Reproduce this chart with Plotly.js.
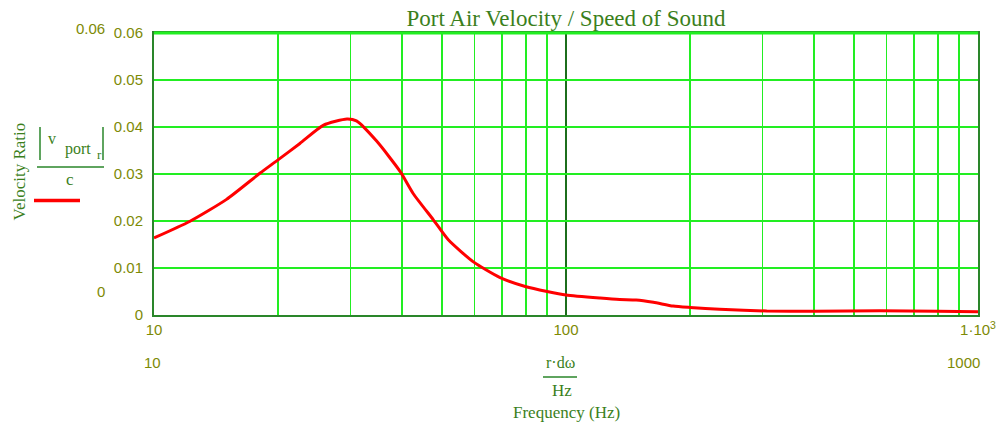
<!DOCTYPE html>
<html>
<head>
<meta charset="utf-8">
<script src="https://cdn.plot.ly/plotly-3.0.1.min.js"></script>
<style>html,body{margin:0;padding:0;background:#fff;}#chart{width:997px;height:423px;}</style>
</head>
<body>
<div id="chart"></div>
<script>
// ---- data ----
var frequencyHz = [10, 12.2, 15, 18.1, 20, 22.6, 25.8, 29.4, 31, 34.7, 39.6, 42.6, 47.6, 51.8, 59.6, 69, 80, 90, 100, 121, 135, 148, 163, 182, 200, 236, 307, 400, 578, 800, 1000];
var velocityRatio = [0.0164, 0.0199, 0.0246, 0.0302, 0.0330, 0.0365, 0.0404, 0.0417, 0.0413, 0.0370, 0.0305, 0.0258, 0.0203, 0.0160, 0.0113, 0.0080, 0.0060, 0.0050, 0.00426, 0.0036, 0.0033, 0.0032, 0.0027, 0.0019, 0.0016, 0.0012, 0.00085, 0.0008, 0.0009, 0.0008, 0.0007];
var xMajorTicks = [10, 100, 1000];
var xMajorTickText = ["10", "100", "1\u00b710<sup>3</sup>"];
var xMinorTicks = [20, 30, 40, 50, 60, 70, 80, 90, 200, 300, 400, 500, 600, 700, 800, 900];
var yTicks = [0, 0.01, 0.02, 0.03, 0.04, 0.05, 0.06];
var yTickText = ["0", "0.01", "0.02", "0.03", "0.04", "0.05", "0.06"];

// ---- layout helpers (pixel -> paper) ----
var L = 154, R = 978, T = 33, B = 315;
function px(x) { return (x - L) / (R - L); }
function py(y) { return (B - y) / (B - T); }

var textGreen = "#3b7f1c";
var tickOlive = "#7d8a05";
var serif = "Liberation Serif, Times New Roman, serif";
var sans = "Liberation Sans, Arial, sans-serif";

function ann(text, x, y, size, font, color, extra) {
  var a = {text: text, x: px(x), y: py(y), xref: "paper", yref: "paper",
    xanchor: "center", yanchor: "middle", showarrow: false,
    font: {family: font, size: size, color: color}};
  if (extra) for (var k in extra) a[k] = extra[k];
  return a;
}
function seg(x0, y0, x1, y1, color, width) {
  return {type: "line", xref: "paper", yref: "paper",
    x0: px(x0), y0: py(y0), x1: px(x1), y1: py(y1),
    line: {color: color, width: width}};
}

var trace = {
  x: frequencyHz, y: velocityRatio, type: "scatter", mode: "lines",
  line: {color: "#ff0000", width: 3, shape: "spline", smoothing: 0.6},
  hoverinfo: "skip", showlegend: false
};

var layout = {
  width: 997, height: 423,
  margin: {l: L, r: 997 - R, t: T, b: 423 - B, pad: 0},
  paper_bgcolor: "#ffffff", plot_bgcolor: "#ffffff",
  title: {text: "Port Air Velocity / Speed of Sound", x: 0.5, xref: "paper",
    y: 1 - 18 / 423, yref: "container", yanchor: "middle",
    font: {family: serif, size: 23, color: textGreen}},
  xaxis: {
    type: "log", range: [1, 3], tickmode: "array",
    tickvals: xMajorTicks, ticktext: xMajorTickText,
    ticks: "", showgrid: true, gridcolor: "#1c6e1c", gridwidth: 1.5,
    minor: {tickmode: "array", tickvals: xMinorTicks, showgrid: true, gridcolor: "#22ee22", gridwidth: 1.5, ticks: ""},
    showline: true, linecolor: "#2a862a", linewidth: 2, mirror: true,
    zeroline: false, tickfont: {family: sans, size: 15, color: tickOlive}
  },
  yaxis: {
    range: [0, 0.06], tickmode: "array", tickvals: yTicks, ticktext: yTickText,
    ticks: "", showgrid: true, gridcolor: "#22ee22", gridwidth: 1.5,
    showline: true, linecolor: "#2a862a", linewidth: 2, mirror: true,
    zeroline: false, ticklabelstandoff: 6,
    tickfont: {family: sans, size: 15, color: tickOlive}
  },
  annotations: [
    ann("Velocity Ratio", 18.5, 172, 17, serif, textGreen, {textangle: -90}),
    ann("v", 52, 138, 16, serif, textGreen),
    ann("port", 78, 149, 16, serif, textGreen),
    ann("r", 99, 154, 13, serif, textGreen),
    ann("c", 70, 180, 17, serif, textGreen),
    ann("0.06", 90, 29, 15, sans, tickOlive),
    ann("0", 101, 291, 15, sans, tickOlive),
    ann("r\u00b7d\u03c9", 560, 362, 16, serif, textGreen),
    ann("Hz", 562, 390, 17, serif, textGreen),
    ann("Frequency (Hz)", 566, 412, 17, serif, textGreen),
    ann("10", 152, 362, 15, sans, tickOlive),
    ann("1000", 963, 362, 15, sans, tickOlive)
  ],
  shapes: [
    seg(40, 127, 40, 160, "#2a862a", 1.5),
    seg(103, 127, 103, 160, "#2a862a", 1.5),
    seg(37, 167, 104, 167, "#2a862a", 1.5),
    seg(34, 200.5, 80, 200.5, "#ff0000", 3.5),
    seg(543, 377, 577, 377, "#2a862a", 1.5),
    seg(L, T, R, T, "#22ee22", 3)
  ]
};

Plotly.newPlot("chart", [trace], layout, {staticPlot: true, displayModeBar: false});
</script>
</body>
</html>
